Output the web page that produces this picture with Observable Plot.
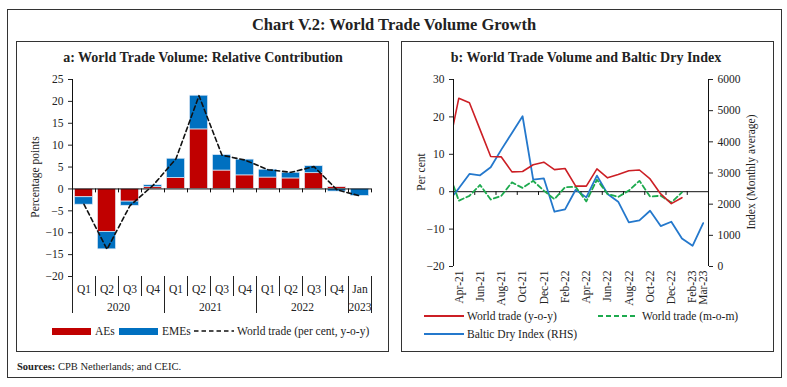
<!DOCTYPE html>
<html>
<head>
<meta charset="utf-8">
<script src="https://cdn.jsdelivr.net/npm/d3@7"></script>
<script src="https://cdn.jsdelivr.net/npm/@observablehq/plot@0.6"></script>
<style>
  html, body { margin: 0; padding: 0; background: #fff; }
  #wrap { position: relative; width: 787px; height: 387px; background: #fff; font-family: "Liberation Serif", serif; color: #222; overflow: hidden; }
  .abs { position: absolute; }
  .box { position: absolute; border: 1px solid #333; box-sizing: border-box; }
  .rot { position: absolute; transform: translate(-50%, -50%) rotate(-90deg); white-space: nowrap; font-size: 11.5px; }
  .leg { position: absolute; font-size: 11.5px; white-space: nowrap; transform: translateY(-50%); }
  .ttl { position: absolute; transform: translate(-50%, -50%); white-space: nowrap; font-weight: bold; }
</style>
</head>
<body>
<div id="wrap">
  <div class="box" style="left:7px;top:9px;width:775px;height:369px;"></div>
  <div class="box" style="left:16px;top:41px;width:373px;height:311px;"></div>
  <div class="box" style="left:401px;top:41px;width:373px;height:311px;"></div>
  <div class="ttl" style="left:394px;top:25px;font-size:16.5px;">Chart V.2: World Trade Volume Growth</div>
  <div class="ttl" style="left:203px;top:58px;font-size:14px;">a: World Trade Volume: Relative Contribution</div>
  <div class="ttl" style="left:586px;top:58px;font-size:14px;">b: World Trade Volume and Baltic Dry Index</div>
  <div id="pa" class="abs" style="left:17px;top:41px;"></div>
  <div id="pb" class="abs" style="left:401px;top:41px;"></div>
  <div class="rot" style="left:35px;top:177px;">Percentage points</div>
  <div class="rot" style="left:421px;top:172px;">Per cent</div>
  <div class="rot" style="left:751px;top:172px;">Index (Monthly average)</div>

  <!-- legend a -->
  <div class="abs" style="left:52px;top:328px;width:39px;height:7px;background:#C00000;"></div>
  <div class="leg" style="left:95px;top:331px;">AEs</div>
  <div class="abs" style="left:119px;top:328px;width:39px;height:7px;background:#0070C0;"></div>
  <div class="leg" style="left:162px;top:331px;">EMEs</div>
  <svg class="abs" style="left:194px;top:329px;" width="40" height="4"><line x1="0" y1="2" x2="40" y2="2" stroke="#111" stroke-width="1.6" stroke-dasharray="4.5,3"/></svg>
  <div class="leg" style="left:237px;top:331px;">World trade (per cent, y-o-y)</div>

  <!-- legend b -->
  <svg class="abs" style="left:424px;top:314px;" width="40" height="4"><line x1="0" y1="2" x2="40" y2="2" stroke="#CC1F25" stroke-width="2"/></svg>
  <div class="leg" style="left:467px;top:316px;">World trade (y-o-y)</div>
  <svg class="abs" style="left:598px;top:314px;" width="40" height="4"><line x1="0" y1="2" x2="40" y2="2" stroke="#1DAA4E" stroke-width="2" stroke-dasharray="5,3"/></svg>
  <div class="leg" style="left:642px;top:316px;">World trade (m-o-m)</div>
  <svg class="abs" style="left:424px;top:332px;" width="40" height="4"><line x1="0" y1="2" x2="40" y2="2" stroke="#2478CC" stroke-width="2"/></svg>
  <div class="leg" style="left:467px;top:334px;">Baltic Dry Index (RHS)</div>

  <div class="abs" style="left:17px;top:366px;font-size:10.5px;transform:translateY(-50%);white-space:nowrap;"><b>Sources:</b> CPB Netherlands; and CEIC.</div>
</div>
<script>
// ---------- Panel a data ----------
const quarterLabels = ["Q1","Q2","Q3","Q4","Q1","Q2","Q3","Q4","Q1","Q2","Q3","Q4","Jan"];
const yearLabels = ["2020","2021","2022","2023"];
const yearSpans = [[0,4],[4,8],[8,12],[12,13]]; // category index spans per year
const aeContrib  = [-1.9, -9.8, -2.9, 0.4, 2.5, 13.6, 4.2, 3.1, 2.6, 2.4, 3.6, 0.4, 0.0];
const emeContrib = [-1.7, -4.0, -0.95, 0.45, 4.4, 7.7, 3.55, 3.6, 1.8, 1.3, 1.6, -0.6, -1.6];
const worldTradeQ = [-3.5, -13.8, -3.8, 0.8, 6.9, 21.3, 7.7, 6.6, 4.4, 3.8, 5.1, -0.2, -1.6];
const yTicksA = [-20, -15, -10, -5, 0, 5, 10, 15, 20, 25];

// ---------- Panel b data ----------
const monthLabels = ["Mar-21","Apr-21","May-21","Jun-21","Jul-21","Aug-21","Sep-21","Oct-21","Nov-21","Dec-21",
  "Jan-22","Feb-22","Mar-22","Apr-22","May-22","Jun-22","Jul-22","Aug-22","Sep-22","Oct-22","Nov-22","Dec-22",
  "Jan-23","Feb-23","Mar-23"];
const tradeYoY = [11.2, 25.0, 23.8, 16.6, 9.4, 9.3, 5.3, 5.4, 7.2, 7.9, 5.9, 6.2, 1.5, 1.5, 6.1, 3.7, 4.6, 5.6, 5.8, 3.4, -0.6, -3.2, -1.6];
const tradeMoM = [5.6, -2.4, -1.1, 1.8, -2.1, -1.1, 2.5, 1.0, 2.9, 0.3, -2.0, 1.2, 1.3, -2.6, 3.2, -0.6, -1.4, 0.3, 2.9, -1.3, -1.1, -2.9, -0.2];
const bdi = [2084, 2508, 2970, 2925, 3182, 3750, 4286, 4821, 2786, 2829, 1757, 1832, 2464, 2218, 2914, 2325, 2079, 1414, 1479, 1789, 1296, 1436, 900, 664, 1393];
const xLabelMonths = ["Apr-21","Jun-21","Aug-21","Oct-21","Dec-21","Feb-22","Apr-22","Jun-22","Aug-22","Oct-22","Dec-22","Feb-23","Mar-23"];
const yTicksB = [-20, -10, 0, 10, 20, 30];
const bdiTicks = [0, 1000, 2000, 3000, 4000, 5000, 6000];

const font = {fontFamily: "Liberation Serif, serif", fontSize: "11.5px", background: "transparent", color: "#222", overflow: "visible"};

// ---------- Panel a ----------
const nA = quarterLabels.length;
const barRows = [
  ...aeContrib.map((v, i) => ({i, v, s: "AEs"})),
  ...emeContrib.map((v, i) => ({i, v, s: "EMEs"}))
];
const wtRows = worldTradeQ.map((v, i) => ({x: i + 0.5, v}));
const boundaries = d3.range(1, nA);
const yearBounds = [0, ...yearSpans.map(s => s[1])];
const quarterCenters = quarterLabels.map((_, i) => i + 0.5);
const yearCenters = yearSpans.map(s => (s[0] + s[1]) / 2);
const yDomA = [d3.min(yTicksA), d3.max(yTicksA)];

const plotA = Plot.plot({
  width: 372, height: 310,
  marginLeft: 55, marginRight: 18, marginTop: 38, marginBottom: 75,
  style: font,
  x: {domain: [0, nA]},
  y: {domain: yDomA},
  color: {domain: ["AEs", "EMEs"], range: ["#C00000", "#0070C0"]},
  marks: [
    Plot.rectY(barRows, {x: "i", interval: 1, y: "v", fill: "s", insetLeft: 2.4, insetRight: 2.4, stroke: "#e3ecf7", strokeWidth: 0.7}),
    Plot.ruleY([0], {stroke: "#111", strokeWidth: 1}),
    Plot.ruleX(boundaries.concat([nA]), {x: d => d, y1: 0, y2: -0.9, stroke: "#111"}),
    Plot.ruleX([0], {y1: yDomA[0], y2: yDomA[1], stroke: "#111"}),
    Plot.line(wtRows, {x: "x", y: "v", stroke: "#111", strokeWidth: 1.6, strokeDasharray: "4.5,3"}),
    Plot.axisY(yTicksA, {anchor: "left", tickSize: 4, tickPadding: 5, label: null}),
    Plot.axisX(boundaries.filter(b => !yearBounds.includes(b)), {anchor: "bottom", tickSize: 20, tickFormat: () => "", label: null}),
    Plot.axisX(yearBounds, {anchor: "bottom", tickSize: 37, tickFormat: () => "", label: null}),
    Plot.axisX(quarterCenters, {anchor: "bottom", tickSize: 0, tickPadding: 8, tickFormat: d => quarterLabels[Math.floor(d)], label: null}),
    Plot.axisX(yearCenters, {anchor: "bottom", tickSize: 0, tickPadding: 26, tickFormat: d => yearLabels[yearCenters.indexOf(d)], label: null})
  ]
});
document.getElementById("pa").appendChild(plotA);

// ---------- Panel b ----------
const idx = (k) => k - 1; // Mar-21 is -1, Apr-21 is 0
const yDomB = [d3.min(yTicksB), d3.max(yTicksB)];
const bdiMax = d3.max(bdiTicks);
const toLeft = v => yDomB[0] + v / bdiMax * (yDomB[1] - yDomB[0]);
const fromLeft = y => (y - yDomB[0]) / (yDomB[1] - yDomB[0]) * bdiMax;
const nMonths = monthLabels.length - 1; // visible months (Apr-21..Mar-23)
const xDomB = [-0.5, nMonths - 0.5];
const yoyRows = tradeYoY.map((v, k) => ({x: idx(k), v}));
const momRows = tradeMoM.map((v, k) => ({x: idx(k), v}));
const bdiRows = bdi.map((v, k) => ({x: idx(k), v: toLeft(v)}));
const xLabelIdx = xLabelMonths.map(m => monthLabels.indexOf(m) - 1);
const zeroTicks = d3.range(1.5, nMonths - 1, 2);

const plotB = Plot.plot({
  width: 372, height: 310,
  marginLeft: 52, marginRight: 65, marginTop: 38, marginBottom: 85,
  style: font,
  x: {domain: xDomB},
  y: {domain: yDomB},
  marks: [
    Plot.ruleY([0], {stroke: "#111", strokeWidth: 1}),
    Plot.ruleX(zeroTicks, {x: d => d, y1: 0, y2: -1, stroke: "#111"}),
    Plot.line(bdiRows, {x: "x", y: "v", stroke: "#2478CC", strokeWidth: 1.8, clip: true}),
    Plot.line(momRows, {x: "x", y: "v", stroke: "#1DAA4E", strokeWidth: 1.8, strokeDasharray: "5,3", clip: true}),
    Plot.line(yoyRows, {x: "x", y: "v", stroke: "#CC1F25", strokeWidth: 1.6, clip: true}),
    Plot.ruleX([xDomB[0]], {y1: yDomB[0], y2: yDomB[1], stroke: "#111"}),
    Plot.ruleX([xDomB[1]], {y1: yDomB[0], y2: yDomB[1], stroke: "#111"}),
    Plot.axisY(yTicksB, {anchor: "left", tickSize: 4, tickPadding: 5, label: null}),
    Plot.axisY(bdiTicks.map(toLeft), {anchor: "right", tickSize: 4, tickPadding: 5, tickFormat: d => String(Math.round(fromLeft(d))), label: null}),
    Plot.axisX(xLabelIdx, {anchor: "bottom", tickSize: 0, tickPadding: 4, tickRotate: -90, tickFormat: d => monthLabels[d + 1], label: null})
  ]
});
document.getElementById("pb").appendChild(plotB);
</script>
</body>
</html>
